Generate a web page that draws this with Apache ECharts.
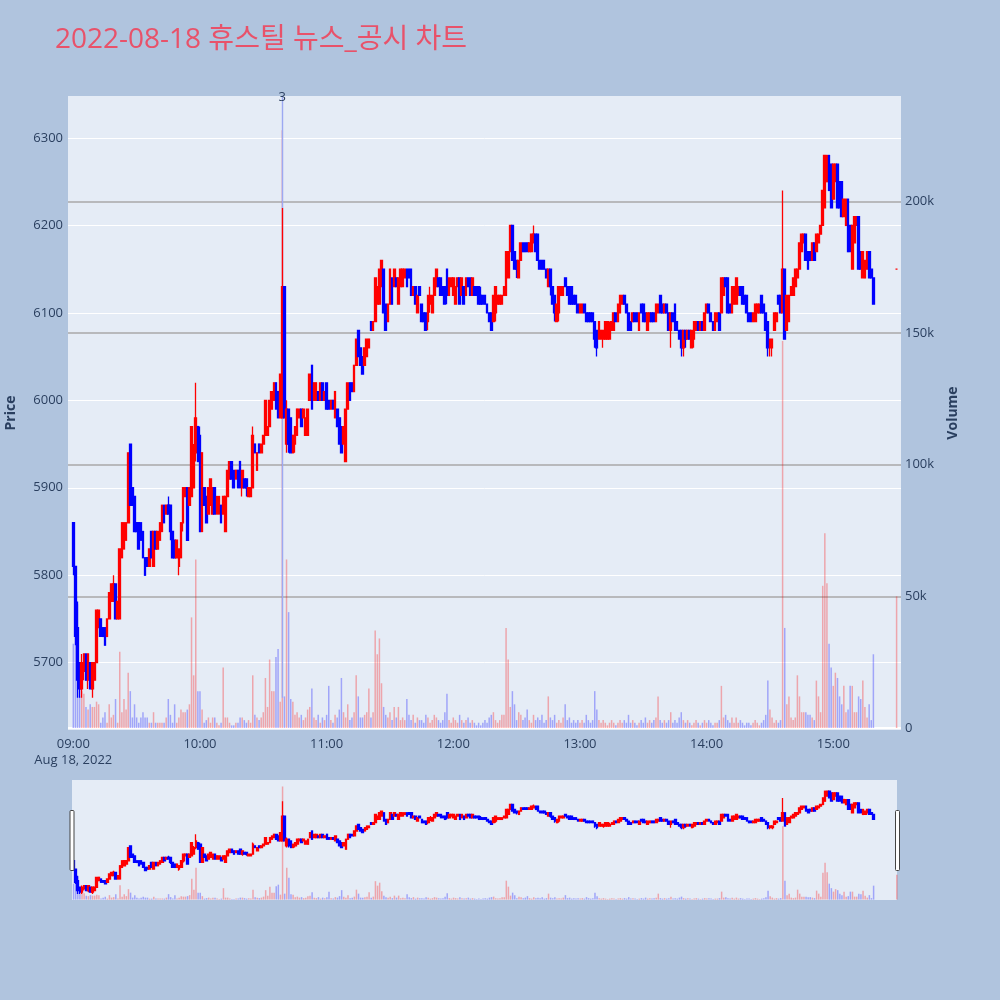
<!DOCTYPE html>
<html><head><meta charset="utf-8">
<script src="https://cdn.jsdelivr.net/npm/echarts@6/dist/echarts.min.js"></script>
<style>html,body{margin:0;padding:0;background:#B0C4DE;}#c{width:1000px;height:1000px;}</style>
</head><body><div id="c"></div>
<script>
const chartTitle = '2022-08-18 휴스틸 뉴스_공시 차트';
const dateLabel = 'Aug 18, 2022';
const sessionStart = '09:00';          // first regular 1-minute candle
const closingAuctionTime = '15:30';    // last (closing auction) candle
const timeTicks = ['09:00', '10:00', '11:00', '12:00', '13:00', '14:00', '15:00'];
const priceTicks = [5700, 5800, 5900, 6000, 6100, 6200, 6300];
const volumeTicks = [0, 50000, 100000, 150000, 200000];
const newsTimes = ['10:39'];
const newsCounts = [3];

const opens = [
5860,5810,5740,5700,5670,5690,5710,5680,5700,5670,
5680,5700,5740,5750,5740,5740,5730,5750,5770,5770,
5790,5750,5750,5820,5830,5840,5860,5950,5900,5890,
5860,5860,5860,5850,5820,5820,5810,5850,5810,5850,
5830,5840,5850,5880,5870,5880,5880,5850,5840,5820,
5810,5820,5860,5890,5900,5880,5890,5900,5940,5970,
5960,5850,5900,5890,5870,5880,5870,5900,5870,5870,
5880,5870,5850,5890,5910,5930,5920,5910,5920,5930,
5900,5910,5910,5890,5890,5900,5950,5920,5950,5940,
5950,5960,5960,5970,5990,6000,6020,6010,5980,5980,
6130,5950,5990,5980,5940,5950,5960,5980,5990,5980,
5960,5960,6000,6040,6000,6000,6010,6000,6020,6000,
6020,6000,5990,6000,5980,5990,5980,5970,5950,5930,
5990,6020,6020,6010,6040,6080,6060,6050,6040,6050,
6060,6090,6080,6090,6110,6110,6130,6150,6110,6090,
6110,6140,6130,6140,6110,6130,6130,6140,6150,6150,
6150,6120,6130,6100,6130,6110,6100,6100,6090,6110,
6100,6120,6130,6140,6140,6130,6130,6150,6120,6130,
6120,6110,6130,6140,6120,6130,6120,6140,6140,6120,
6130,6130,6130,6120,6120,6120,6110,6100,6100,6090,
6100,6110,6110,6110,6120,6120,6140,6170,6200,6170,
6160,6140,6160,6180,6180,6180,6170,6170,6180,6190,
6190,6160,6160,6160,6150,6130,6150,6130,6120,6090,
6100,6120,6120,6140,6130,6130,6130,6120,6120,6110,
6100,6100,6110,6100,6100,6100,6100,6090,6080,6070,
6070,6070,6070,6070,6070,6080,6080,6100,6090,6100,
6110,6120,6110,6100,6090,6090,6100,6100,6080,6110,
6110,6100,6080,6090,6100,6100,6090,6100,6120,6110,
6100,6110,6100,6080,6100,6110,6090,6080,6080,6060,
6080,6070,6080,6060,6070,6080,6090,6080,6090,6080,
6100,6110,6100,6090,6080,6090,6100,6100,6120,6140,
6140,6110,6100,6110,6110,6120,6130,6130,6120,6120,
6100,6100,6090,6090,6100,6100,6120,6110,6100,6090,
6060,6060,6080,6090,6120,6120,6100,6150,6080,6090,
6120,6120,6130,6140,6150,6170,6180,6190,6170,6170,
6160,6180,6170,6180,6190,6200,6220,6250,6280,6270,
6230,6250,6270,6250,6250,6210,6200,6230,6200,6150,
6180,6200,6210,6170,6140,6140,6150,6170,6150,6140,
6150];
const closes = [
5810,5730,5680,5670,5700,5710,5680,5710,5670,5700,
5700,5760,5760,5730,5730,5720,5750,5780,5790,5790,
5750,5770,5830,5860,5860,5860,5940,5880,5880,5850,
5850,5830,5840,5820,5800,5810,5830,5820,5850,5830,
5850,5860,5880,5860,5880,5870,5850,5820,5820,5840,
5830,5860,5900,5900,5840,5900,5970,5940,5980,5930,
5850,5940,5880,5860,5900,5910,5900,5870,5890,5890,
5860,5890,5890,5920,5930,5910,5900,5920,5900,5900,
5920,5900,5900,5900,5900,5960,5940,5940,5940,5950,
5960,6000,5970,6000,6010,6020,5990,5980,6030,6130,
5980,5990,5950,5940,5960,5970,5990,5990,5970,5990,
5980,5990,6030,5990,6020,6020,6000,6020,6000,6010,
5990,5990,6000,5990,6010,5970,5950,5940,5970,5990,
6020,6000,6010,6040,6070,6050,6040,6030,6060,6070,
6070,6080,6090,6140,6130,6150,6160,6100,6080,6110,
6150,6110,6150,6130,6140,6150,6150,6150,6130,6140,
6120,6130,6110,6120,6120,6090,6090,6080,6120,6120,
6120,6140,6150,6130,6120,6120,6110,6120,6140,6140,
6140,6130,6140,6110,6140,6110,6140,6130,6120,6140,
6120,6120,6110,6110,6110,6110,6100,6090,6080,6120,
6130,6120,6120,6120,6130,6170,6170,6200,6160,6150,
6150,6160,6180,6170,6170,6170,6180,6190,6190,6170,
6160,6150,6150,6150,6140,6150,6130,6110,6100,6110,
6130,6130,6130,6130,6120,6110,6110,6110,6110,6100,
6110,6110,6100,6090,6090,6090,6090,6070,6060,6090,
6080,6080,6090,6090,6080,6090,6100,6090,6110,6120,
6120,6110,6100,6080,6080,6100,6090,6090,6100,6100,
6090,6090,6100,6100,6090,6090,6110,6110,6100,6100,
6110,6100,6080,6100,6090,6080,6080,6070,6060,6080,
6070,6080,6070,6080,6090,6090,6080,6090,6080,6100,
6110,6100,6090,6080,6100,6100,6080,6140,6140,6130,
6100,6100,6130,6130,6140,6130,6120,6110,6110,6100,
6090,6090,6100,6110,6110,6110,6100,6100,6080,6060,
6070,6070,6100,6100,6110,6100,6150,6070,6120,6120,
6130,6140,6150,6150,6180,6190,6190,6160,6150,6160,
6180,6160,6190,6190,6200,6240,6280,6280,6240,6220,
6270,6270,6220,6220,6210,6230,6230,6170,6170,6200,
6210,6210,6150,6150,6170,6160,6170,6140,6140,6110,
6150];
const lows = [
5800,5720,5660,5660,5660,5680,5680,5670,5670,5660,
5680,5700,5740,5730,5730,5720,5730,5750,5770,5770,
5750,5750,5750,5820,5830,5840,5860,5880,5880,5850,
5850,5830,5840,5820,5800,5810,5810,5820,5810,5830,
5830,5840,5850,5860,5870,5870,5840,5820,5820,5820,
5800,5820,5850,5890,5840,5880,5890,5900,5930,5930,
5850,5850,5880,5860,5870,5880,5870,5870,5870,5870,
5860,5870,5850,5890,5910,5910,5900,5910,5900,5900,
5890,5900,5890,5890,5890,5900,5940,5920,5940,5940,
5950,5960,5960,5970,5990,6000,5990,5980,5980,5980,
5980,5940,5940,5940,5940,5940,5960,5980,5970,5980,
5960,5960,6000,5990,6000,6000,6000,6000,6000,6000,
5990,5990,5990,5990,5980,5970,5950,5940,5950,5930,
5990,6000,6010,6010,6040,6050,6040,6030,6040,6050,
6060,6080,6080,6090,6110,6110,6130,6100,6080,6090,
6110,6110,6130,6130,6110,6130,6130,6140,6130,6140,
6120,6120,6110,6100,6120,6090,6090,6080,6080,6100,
6100,6120,6130,6130,6120,6120,6110,6110,6120,6130,
6120,6110,6130,6110,6120,6110,6120,6130,6120,6120,
6120,6120,6110,6110,6110,6110,6100,6090,6080,6090,
6090,6110,6110,6110,6120,6120,6140,6170,6160,6150,
6140,6140,6160,6170,6170,6170,6170,6170,6180,6170,
6160,6150,6150,6150,6140,6130,6120,6110,6090,6090,
6090,6120,6120,6130,6120,6110,6110,6110,6110,6100,
6100,6100,6100,6090,6090,6090,6090,6060,6050,6070,
6070,6060,6070,6070,6070,6080,6080,6090,6090,6100,
6110,6110,6100,6080,6080,6090,6090,6090,6080,6100,
6090,6090,6080,6090,6090,6090,6090,6100,6100,6100,
6100,6100,6080,6060,6090,6080,6080,6070,6050,6050,
6060,6070,6070,6060,6060,6080,6080,6080,6080,6080,
6100,6100,6090,6080,6080,6090,6080,6100,6120,6130,
6100,6100,6100,6110,6110,6120,6120,6110,6110,6100,
6090,6090,6090,6090,6100,6100,6100,6100,6080,6050,
6050,6050,6080,6090,6110,6100,6100,6070,6080,6090,
6120,6120,6130,6140,6150,6170,6180,6160,6150,6160,
6160,6160,6170,6180,6190,6200,6220,6250,6240,6220,
6230,6250,6220,6220,6210,6210,6200,6170,6170,6150,
6180,6200,6150,6150,6140,6140,6150,6140,6140,6110,
6150];
const highs = [
5860,5810,5770,5700,5710,5710,5710,5710,5700,5700,
5700,5760,5760,5750,5740,5740,5750,5780,5790,5800,
5790,5770,5830,5860,5860,5860,5940,5950,5900,5890,
5860,5860,5860,5850,5820,5820,5830,5850,5850,5850,
5850,5860,5880,5880,5880,5890,5880,5850,5840,5840,
5830,5860,5900,5900,5900,5900,5970,5950,6020,5970,
5970,5940,5900,5890,5900,5910,5900,5900,5890,5890,
5880,5890,5890,5920,5930,5930,5920,5920,5920,5930,
5920,5910,5910,5900,5900,5970,5950,5940,5950,5950,
5960,6000,5970,6000,6010,6020,6020,6010,6030,6220,
6130,6000,5990,5980,5960,5970,5990,5990,5990,5990,
5980,5990,6030,6040,6020,6020,6010,6020,6020,6010,
6020,6000,6000,6000,6010,5990,5980,5970,5970,5990,
6020,6020,6020,6040,6070,6080,6060,6050,6060,6070,
6070,6090,6090,6140,6130,6150,6160,6150,6110,6110,
6150,6140,6150,6140,6140,6150,6150,6150,6150,6150,
6150,6130,6130,6120,6130,6110,6100,6100,6120,6130,
6120,6140,6150,6140,6140,6130,6130,6150,6140,6140,
6140,6130,6140,6140,6140,6130,6140,6140,6140,6140,
6130,6130,6130,6130,6120,6120,6110,6100,6100,6120,
6130,6120,6120,6120,6130,6170,6170,6200,6200,6170,
6160,6160,6180,6180,6180,6180,6180,6190,6200,6190,
6190,6160,6160,6160,6150,6150,6150,6130,6120,6110,
6130,6130,6130,6140,6130,6130,6130,6120,6120,6110,
6110,6110,6110,6100,6100,6100,6100,6090,6080,6090,
6080,6080,6090,6090,6090,6090,6100,6100,6110,6120,
6120,6120,6110,6100,6090,6100,6100,6100,6100,6110,
6110,6100,6100,6100,6100,6100,6110,6110,6120,6110,
6110,6110,6100,6100,6100,6110,6090,6080,6080,6080,
6080,6080,6080,6080,6090,6090,6090,6090,6090,6100,
6110,6110,6100,6090,6100,6100,6100,6140,6140,6140,
6140,6110,6130,6130,6140,6130,6130,6130,6120,6120,
6100,6100,6100,6110,6110,6110,6120,6110,6100,6090,
6070,6070,6100,6100,6120,6120,6240,6150,6120,6120,
6130,6140,6150,6150,6180,6190,6190,6190,6170,6170,
6180,6180,6190,6190,6200,6240,6280,6280,6280,6270,
6270,6270,6270,6250,6250,6230,6230,6230,6200,6200,
6210,6210,6210,6170,6170,6160,6170,6170,6150,6140,
6150];
const volumesThousands = [
32,54,47,12,14,13,8,7,9,8,
8,10,9,2,4,6,2,9,4,5,
11,2,29,6,11,7,21,14,4,9,
4,2,4,6,4,4,2,2,6,2,
2,2,2,2,4,11,5,2,9,2,
4,7,6,6,7,9,42,20,64,14,
14,7,2,3,4,2,4,4,2,1,
2,23,4,4,2,1,1,2,2,4,
4,3,2,3,2,20,5,4,3,4,
6,19,8,26,14,14,27,30,10,227,
12,64,44,11,10,5,6,4,5,3,
4,7,8,15,4,3,5,2,4,3,
5,16,3,2,5,4,7,19,6,4,
9,3,4,6,20,12,4,4,5,6,
15,4,6,37,28,34,17,8,5,4,
6,3,8,4,8,3,4,3,11,5,
3,5,2,4,3,3,2,5,4,2,
3,5,4,3,2,3,6,13,3,2,
4,3,2,5,3,2,3,4,2,3,
2,1,2,1,2,3,2,4,5,6,
3,2,3,5,5,38,26,8,14,9,
3,6,5,3,4,7,3,2,5,3,
4,3,5,2,3,12,4,3,5,2,
3,2,4,9,3,4,2,3,2,3,
2,3,2,5,3,2,3,14,7,3,
2,3,2,1,2,3,2,1,2,3,
2,3,2,5,2,3,2,1,2,3,
2,4,2,3,2,3,4,12,3,2,
3,2,3,6,2,3,2,4,6,3,
2,3,2,1,2,3,2,1,2,3,
2,3,2,1,2,2,3,16,4,5,
3,2,4,2,4,2,3,2,1,2,
2,1,2,3,2,1,2,3,5,18,
7,4,2,3,2,3,147,38,9,12,
4,3,4,20,12,6,6,6,5,5,
4,3,18,12,6,54,74,55,32,23,
16,21,19,12,9,16,6,7,16,16,
6,6,12,11,18,8,4,9,3,28,
50];

// ---- helpers / layout ----
function ts(hhmm, sec) {
  const p = hhmm.split(':').map(Number);
  return new Date(2022, 7, 18, p[0], p[1], sec || 0).getTime();
}
const t0 = ts(sessionStart);
const times = opens.map((_, i) => i < opens.length - 1 ? t0 + i * 60000 : ts(closingAuctionTime));

const UP = '#FF0000', DOWN = '#0000FF';
const UPV = 'rgba(255,0,0,0.3)', DOWNV = 'rgba(0,0,255,0.3)';
const TXT = '#2a3f5f';
const FONT = "'Open Sans','Noto Sans CJK KR',sans-serif";
const PRICE_MIN = 5623, PRICE_MAX = 6348;
const VOL_MIN = -760, VOL_MAX = 240000;
const X_MIN = ts('08:57', 29), X_MAX = ts('15:32', 5);
const XS_MIN = ts('08:59', 15), XS_MAX = ts('15:30', 5);

const candleData = times.map((t, i) => [t, opens[i], closes[i], lows[i], highs[i]]);
const volData = times.map((t, i) => ({
  value: [t, volumesThousands[i] * 1000],
  itemStyle: { color: closes[i] >= opens[i] ? UPV : DOWNV }
}));
const dayLow = Math.min.apply(null, lows);

function hm(v) {
  const d = new Date(v);
  return String(d.getHours()).padStart(2, '0') + ':' + String(d.getMinutes()).padStart(2, '0');
}

const candleStyle = { color: UP, color0: DOWN, borderColor: UP, borderColor0: DOWN, borderWidth: 1.3 };

const option = {
  backgroundColor: '#B0C4DE',
  animation: false,
  title: {
    text: chartTitle, left: 50, top: 21,
    textStyle: { fontSize: 28, fontWeight: 'normal', color: '#E8526A', fontFamily: FONT }
  },
  grid: [
    { left: 68, right: 99, top: 96, height: 634, show: true, backgroundColor: '#E5ECF6', borderWidth: 0, containLabel: false, outerBoundsMode: 'none' },
    { left: 72, right: 103, top: 780, height: 120, show: true, backgroundColor: '#E5ECF6', borderWidth: 0, containLabel: false, outerBoundsMode: 'none' }
  ],
  xAxis: [
    {
      type: 'value', gridIndex: 0, min: X_MIN, max: X_MAX, scale: true,
      axisLine: { show: false }, axisTick: { show: false }, splitLine: { show: false },
      axisLabel: {
        customValues: timeTicks.map(t => ts(t)),
        formatter: (v) => hm(v) === timeTicks[0] ? hm(v) + '\n' + dateLabel : hm(v),
        color: TXT, fontSize: 13, fontFamily: FONT, margin: 6, lineHeight: 16, hideOverlap: false
      }
    },
    {
      type: 'value', gridIndex: 1, min: XS_MIN, max: XS_MAX, scale: true, show: false,
      splitLine: { show: false }
    }
  ],
  yAxis: [
    {
      type: 'value', gridIndex: 0, position: 'left', min: PRICE_MIN, max: PRICE_MAX, scale: true,
      axisLine: { show: false }, axisTick: { show: false }, splitLine: { show: false },
      axisLabel: { customValues: priceTicks, color: TXT, fontSize: 13, fontFamily: FONT, margin: 5,
        formatter: (v) => String(v) },
      name: 'Price', nameLocation: 'middle', nameGap: 50, nameRotate: 90,
      nameTextStyle: { fontWeight: 'bold', fontSize: 14, color: TXT, fontFamily: FONT }
    },
    {
      type: 'value', gridIndex: 0, position: 'right', min: VOL_MIN, max: VOL_MAX,
      axisLine: { show: false }, axisTick: { show: false }, splitLine: { show: false },
      axisLabel: {
        customValues: volumeTicks, color: TXT, fontSize: 13, fontFamily: FONT, margin: 4,
        formatter: (v) => v === 0 ? '0' : (v / 1000) + 'k'
      },
      name: 'Volume', nameLocation: 'middle', nameGap: 45, nameRotate: 90,
      nameTextStyle: { fontWeight: 'bold', fontSize: 14, color: TXT, fontFamily: FONT }
    },
    { type: 'value', gridIndex: 1, min: PRICE_MIN, max: PRICE_MAX, scale: true, show: false, splitLine: { show: false } },
    { type: 'value', gridIndex: 1, min: VOL_MIN, max: VOL_MAX, show: false, splitLine: { show: false } }
  ],
  series: [
    { // price grid lines
      type: 'line', xAxisIndex: 0, yAxisIndex: 0, data: [], silent: true,
      markLine: {
        silent: true, symbol: 'none', z: 1, animation: false, label: { show: false },
        lineStyle: { color: '#FFFFFF', width: 1, type: 'solid' },
        data: priceTicks.map(v => ({ yAxis: v }))
      }
    },
    { // volume grid lines
      type: 'line', xAxisIndex: 0, yAxisIndex: 1, data: [], silent: true,
      markLine: {
        silent: true, symbol: 'none', z: 1, animation: false, label: { show: false },
        lineStyle: { color: '#A9A9A9', width: 1.5, type: 'solid' },
        data: volumeTicks.map(v => v === 0
          ? { yAxis: v, lineStyle: { color: '#FFFFFF', width: 2 } }
          : { yAxis: v })
      }
    },
    {
      type: 'bar', name: 'Volume', xAxisIndex: 0, yAxisIndex: 1, data: volData,
      barWidth: 1.5, z: 2, silent: true
    },
    {
      type: 'candlestick', name: 'Price', xAxisIndex: 0, yAxisIndex: 0, data: candleData,
      encode: { x: 0, y: [1, 2, 3, 4] },
      barWidth: 2.2, itemStyle: candleStyle, z: 3, silent: true
    },
    { // news markers
      type: 'line', xAxisIndex: 0, yAxisIndex: 0, data: [], silent: true, z: 2,
      markLine: {
        silent: true, symbol: 'none', z: 2.5, animation: false,
        lineStyle: { color: '#9CA9F2', width: 1.4, type: 'solid', opacity: 1 },
        label: { show: true, position: 'end', distance: -8, color: TXT, fontSize: 13, fontFamily: FONT },
        data: newsTimes.map((t, i) => [
          { coord: [ts(t), dayLow], label: { formatter: String(newsCounts[i]) } },
          { coord: [ts(t), PRICE_MAX] }
        ])
      }
    },
    {
      type: 'bar', xAxisIndex: 1, yAxisIndex: 3, data: volData, barWidth: 1.5, z: 2, silent: true
    },
    {
      type: 'candlestick', xAxisIndex: 1, yAxisIndex: 2, data: candleData,
      encode: { x: 0, y: [1, 2, 3, 4] },
      barWidth: 2.2, itemStyle: candleStyle, z: 3, silent: true
    }
  ],
  graphic: [
    { type: 'rect', left: 69.5, top: 810, z: 100, shape: { width: 4, height: 60, r: 1 }, style: { fill: '#FFFFFF', stroke: '#444444', lineWidth: 1 } },
    { type: 'rect', left: 895, top: 810, z: 100, shape: { width: 4, height: 60, r: 1 }, style: { fill: '#FFFFFF', stroke: '#444444', lineWidth: 1 } }
  ]
};

const chart = echarts.init(document.getElementById('c'));
chart.setOption(option);
</script>
</body></html>
